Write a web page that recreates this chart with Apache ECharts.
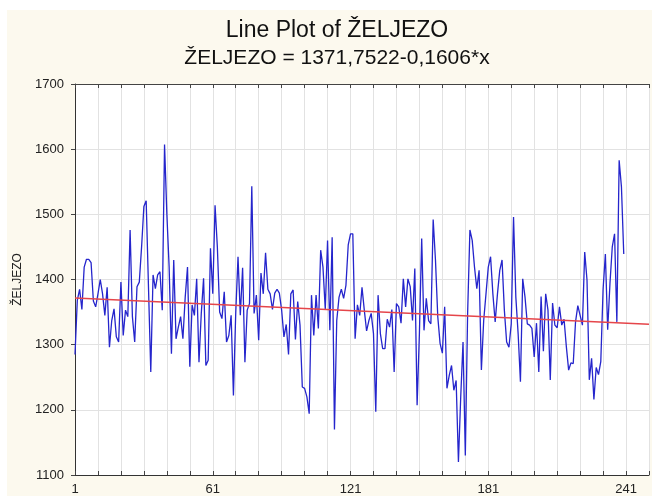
<!DOCTYPE html>
<html>
<head>
<meta charset="utf-8">
<title>Line Plot of ŽELJEZO</title>
<script src="https://cdn.jsdelivr.net/npm/echarts@6/dist/echarts.min.js"></script>
<style>
  html, body { margin: 0; padding: 0; background: #ffffff; }
  #backdrop { position: absolute; left: 7px; top: 10px; width: 645px; height: 486px; background: #fcf9ee; }
  #chart { position: absolute; left: 0; top: 0; width: 652px; height: 496px; }
</style>
</head>
<body>
<div id="backdrop"></div>
<div id="chart"></div>
<script>
// Iron measurements, one value per observation (1..240)
const zeljezo = [
  1285, 1368, 1385, 1354, 1419, 1431, 1431, 1426, 1367, 1358,
  1378, 1400, 1378, 1345, 1388, 1296, 1337, 1355, 1312, 1304,
  1396, 1314, 1353, 1343, 1476, 1343, 1304, 1389, 1396, 1450,
  1512, 1521, 1389, 1258, 1407, 1386, 1407, 1412, 1353, 1607,
  1501, 1419, 1286, 1430, 1309, 1327, 1343, 1309, 1373, 1419,
  1266, 1361, 1345, 1401, 1273, 1348, 1402, 1268, 1276, 1448,
  1378, 1514, 1450, 1350, 1340, 1381, 1304, 1314, 1345, 1222,
  1348, 1435, 1345, 1418, 1273, 1353, 1363, 1543, 1348, 1376,
  1307, 1410, 1378, 1441, 1385, 1378, 1354, 1379, 1385, 1379,
  1353, 1312, 1331, 1285, 1378, 1384, 1308, 1366, 1330, 1235,
  1233, 1220, 1194, 1376, 1314, 1376, 1325, 1445, 1419, 1354,
  1460, 1322, 1465, 1170, 1337, 1373, 1385, 1371, 1391, 1453,
  1470, 1470, 1309, 1361, 1345, 1388, 1353, 1321, 1337, 1348,
  1317, 1197, 1376, 1317, 1294, 1294, 1339, 1327, 1354, 1258,
  1363, 1358, 1333, 1401, 1358, 1401, 1389, 1337, 1417, 1207,
  1317, 1463, 1322, 1371, 1337, 1332, 1492, 1430, 1343, 1302,
  1287, 1358, 1233, 1253, 1268, 1230, 1245, 1120, 1220, 1304,
  1130, 1348, 1476, 1460, 1419, 1386, 1414, 1261, 1337, 1378,
  1419, 1435, 1378, 1335, 1378, 1414, 1430, 1353, 1304, 1296,
  1332, 1496, 1373, 1317, 1243, 1401, 1373, 1332, 1330, 1325,
  1281, 1333, 1258, 1374, 1290, 1378, 1353, 1246, 1364, 1330,
  1326, 1358, 1330, 1339, 1297, 1261, 1272, 1271, 1335, 1360,
  1345, 1330, 1442, 1399, 1246, 1279, 1216, 1265, 1254, 1274,
  1385, 1439, 1323, 1394, 1450, 1470, 1335, 1583, 1542, 1439
];

// Labelled observation numbers on the x axis
const xTickLabels = [1, 61, 121, 181, 241];

// Fitted trend: ŽELJEZO = 1371,7522 - 0,1606 * x
const intercept = 1371.7522;
const slope = -0.1606;

const X_MIN = 1, X_MAX = 251;
const FONT = '"Liberation Sans", Arial, sans-serif';

const seriesData = zeljezo.map((v, k) => [k + 1, v]);
const trendData = [X_MIN, X_MAX].map(x => [x, intercept + slope * x]);

const chart = echarts.init(document.getElementById('chart'), null, { renderer: 'canvas' });

const baseX = {
  type: 'value',
  min: X_MIN,
  max: X_MAX,
  interval: 10,
  axisLine: { show: true, onZero: false, lineStyle: { color: '#333', width: 1 } },
  axisTick: { show: true, inside: true, length: 4, lineStyle: { color: '#444', width: 1 } }
};

chart.setOption({
  animation: false,
  backgroundColor: 'transparent',
  grid: {
    left: 75, top: 84, width: 583.3, height: 391,
    show: true, backgroundColor: '#ffffff', borderWidth: 0
  },
  graphic: [
    {
      type: 'text', x: 337, y: 31, silent: true,
      style: { text: 'Line Plot of ŽELJEZO', font: '23px ' + FONT, fill: '#111',
               align: 'center', verticalAlign: 'middle' }
    },
    {
      type: 'text', x: 337, y: 58, silent: true,
      style: { text: 'ŽELJEZO = 1371,7522-0,1606*x', font: '21px ' + FONT, fill: '#111',
               align: 'center', verticalAlign: 'middle' }
    }
  ],
  xAxis: [
    Object.assign({}, baseX, {
      position: 'bottom',
      axisLabel: {
        show: true, margin: 8, fontSize: 13, fontFamily: FONT, color: '#222',
        formatter: v => (xTickLabels.indexOf(Math.round(v)) >= 0 ? String(Math.round(v)) : '')
      },
      splitLine: { show: true, lineStyle: { color: '#e2e2e2', width: 1 } }
    }),
    Object.assign({}, baseX, {
      position: 'top',
      axisLine: { show: true, onZero: false, lineStyle: { color: '#444', width: 1 } },
      axisLabel: { show: false },
      splitLine: { show: false }
    })
  ],
  yAxis: {
    type: 'value',
    min: 1100,
    max: 1700,
    interval: 100,
    name: 'ŽELJEZO',
    nameLocation: 'middle',
    nameGap: 36,
    nameTextStyle: { fontSize: 12, fontFamily: FONT, color: '#222' },
    axisLine: { show: true, lineStyle: { color: '#333', width: 1 } },
    axisTick: { show: true, inside: false, length: 4, lineStyle: { color: '#444' } },
    axisLabel: { margin: 11, fontSize: 13, fontFamily: FONT, color: '#222', formatter: v => String(v) },
    splitLine: { show: true, lineStyle: { color: '#e2e2e2', width: 1 } }
  },
  series: [
    {
      type: 'line',
      xAxisIndex: 0,
      data: seriesData,
      showSymbol: false,
      symbol: 'none',
      lineStyle: { color: '#2525cc', width: 1.3 },
      silent: true
    },
    {
      type: 'line',
      xAxisIndex: 0,
      data: trendData,
      showSymbol: false,
      symbol: 'none',
      lineStyle: { color: '#e5454a', width: 1.4 },
      silent: true
    }
  ]
});
</script>
</body>
</html>
